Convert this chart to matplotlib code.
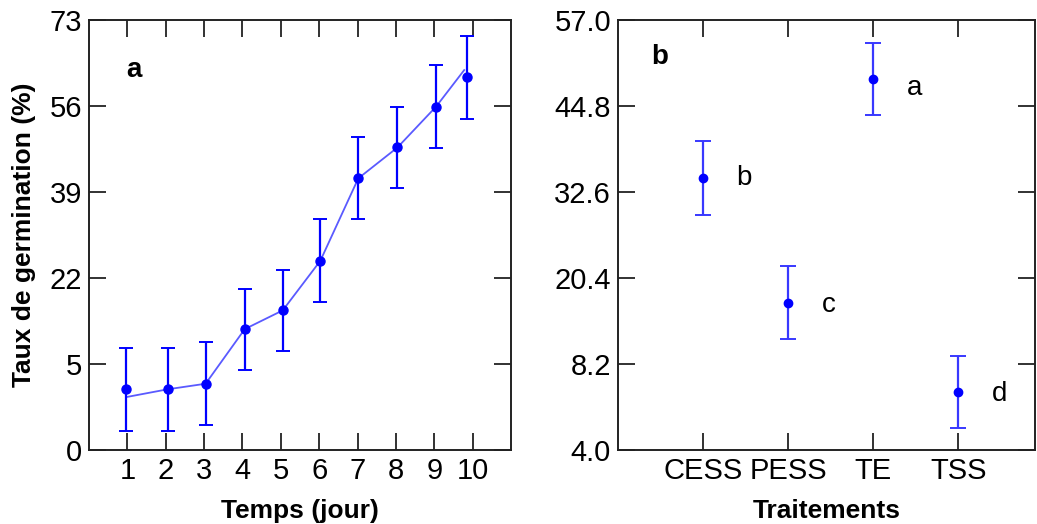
import matplotlib
matplotlib.use("Agg")
import matplotlib.pyplot as plt

plt.rcParams['font.family'] = ['Liberation Sans', 'DejaVu Sans']

# ---- Panel a data ----
days = [1, 2, 3, 4, 5, 6, 7, 8, 9, 10]
day_pos = [0.97, 2.05, 3.04, 4.06, 5.05, 6.03, 7.02, 8.04, 9.05, 9.85]
germ_mean = [0.0, 0.0, 1.1, 11.9, 15.6, 25.4, 41.7, 47.8, 55.9, 61.7]
germ_err = [8.2, 8.2, 8.2, 8.0, 8.0, 8.2, 8.1, 8.1, 8.2, 8.2]
line_x = [1.0, 2.05, 3.04, 4.06, 5.05, 6.03, 7.02, 8.04, 9.05, 9.78]
line_y = [-1.5, 0.0, 1.1, 11.9, 15.6, 25.4, 41.7, 47.8, 55.9, 63.1]
yticks_a = [-12, 5, 22, 39, 56, 73]
yticklabels_a = ['0', '5', '22', '39', '56', '73']

# ---- Panel b data ----
treatments = ['CESS', 'PESS', 'TE', 'TSS']
treat_mean = [34.6, 16.9, 48.6, 4.2]
treat_err = [5.2, 5.2, 5.1, 5.1]
treat_letters = ['b', 'c', 'a', 'd']
letter_y = [34.6, 16.5, 47.3, 3.9]
yticks_b = [-4.0, 8.2, 20.4, 32.6, 44.8, 57.0]
yticklabels_b = ['4.0', '8.2', '20.4', '32.6', '44.8', '57.0']

W, H = 1037, 524
fig = plt.figure(figsize=(W / 100, H / 100), dpi=100)
ax1 = fig.add_axes([89 / W, (H - 450) / H, 422 / W, 430 / H])
ax2 = fig.add_axes([618 / W, (H - 450) / H, 417 / W, 430 / H])

blue = '#0000ff'
tick_fs = 21

def style(ax):
    for s in ax.spines.values():
        s.set_linewidth(1.4)
        s.set_color('#222222')
    ax.tick_params(axis='both', which='both', direction='in', length=12, width=1.3,
                   color='#222222', top=True, right=True, labelsize=tick_fs, pad=5)

# Panel a
ax1.plot(line_x, line_y, color='#5a5aff', lw=1.3, zorder=2)
ax1.errorbar(day_pos, germ_mean, yerr=germ_err, fmt='o', color=blue, ms=6.5,
             ecolor=blue, elinewidth=1.6, capsize=5, capthick=1.4, zorder=3)
ax1.set_xlim(0, 11)
ax1.set_ylim(-12, 73)
ax1.set_xticks(days)
ax1.set_xticklabels([str(d) for d in days])
ax1.set_yticks(yticks_a)
ax1.set_yticklabels(yticklabels_a)
style(ax1)
ax1.set_xlabel('Temps (jour)', fontsize=19, fontweight='bold', labelpad=10)
ax1.set_ylabel('Taux de germination (%)', fontsize=19, fontweight='bold', labelpad=10)
ax1.text(0.107, 0.884, 'a', transform=ax1.transAxes, fontsize=20, fontweight='bold',
         ha='center', va='center')

# Panel b
xpos = list(range(1, len(treatments) + 1))
ax2.errorbar(xpos, treat_mean, yerr=treat_err, fmt='o', color=blue, ms=6,
             ecolor='#3838ff', elinewidth=1.6, capsize=5.5, capthick=1.4, zorder=3)
for x, y, l in zip(xpos, letter_y, treat_letters):
    ax2.text(x + 0.48, y, l, fontsize=20, ha='center', va='center')
ax2.set_xlim(0, 4.9)
ax2.set_ylim(-4.0, 57.0)
ax2.set_xticks(xpos)
ax2.set_xticklabels(treatments)
ax2.set_yticks(yticks_b)
ax2.set_yticklabels(yticklabels_b)
style(ax2)
ax2.set_xlabel('Traitements', fontsize=19, fontweight='bold', labelpad=10)
ax2.text(0.099, 0.914, 'b', transform=ax2.transAxes, fontsize=20, fontweight='bold',
         ha='center', va='center')

fig.savefig('out.png', dpi=100)
